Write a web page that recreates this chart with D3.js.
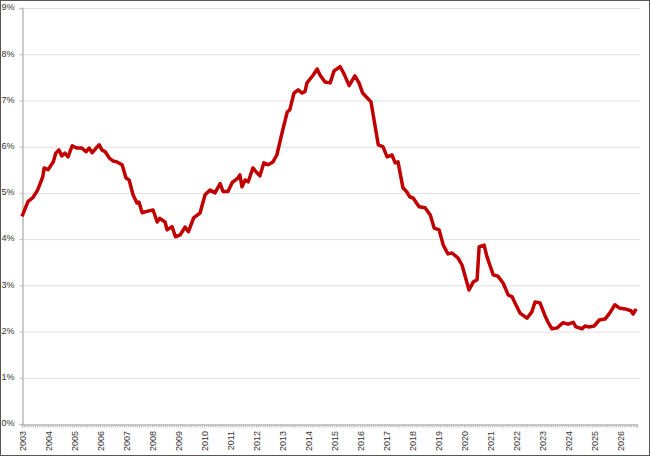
<!DOCTYPE html>
<html><head><meta charset="utf-8">
<script src="https://cdn.jsdelivr.net/npm/d3@7"></script>
<style>body{margin:0;background:#fff}svg{display:block}</style>
</head><body><div id="chart"></div>
<script>
const years = [2003.0,2003.23,2003.42,2003.6,2003.8,2003.85,2004.0,2004.2,2004.3,2004.42,2004.53,2004.65,2004.77,2004.93,2005.1,2005.3,2005.46,2005.58,2005.7,2005.85,2005.97,2006.07,2006.2,2006.35,2006.5,2006.65,2006.85,2007.0,2007.12,2007.27,2007.42,2007.5,2007.62,2007.8,2008.04,2008.2,2008.3,2008.5,2008.58,2008.77,2008.9,2009.08,2009.27,2009.4,2009.6,2009.85,2010.04,2010.23,2010.42,2010.62,2010.73,2010.92,2011.08,2011.3,2011.38,2011.46,2011.58,2011.7,2011.88,2012.04,2012.15,2012.3,2012.46,2012.65,2012.8,2013.0,2013.2,2013.3,2013.46,2013.62,2013.77,2013.88,2013.96,2014.2,2014.35,2014.46,2014.65,2014.85,2015.0,2015.23,2015.38,2015.58,2015.8,2015.96,2016.1,2016.27,2016.42,2016.7,2016.88,2017.04,2017.23,2017.35,2017.46,2017.65,2017.8,2017.92,2018.04,2018.27,2018.5,2018.7,2018.85,2019.04,2019.2,2019.38,2019.54,2019.77,2019.92,2020.08,2020.19,2020.35,2020.5,2020.58,2020.77,2020.88,2021.12,2021.3,2021.5,2021.7,2021.85,2021.96,2022.15,2022.42,2022.6,2022.73,2022.92,2023.1,2023.23,2023.38,2023.58,2023.8,2024.0,2024.2,2024.3,2024.54,2024.65,2024.8,2025.0,2025.2,2025.42,2025.6,2025.8,2025.96,2026.19,2026.42,2026.5,2026.62];
const values = [4.49,4.81,4.9,5.06,5.35,5.54,5.5,5.67,5.86,5.93,5.8,5.86,5.78,6.02,5.97,5.97,5.89,5.97,5.87,5.97,6.04,5.93,5.89,5.76,5.69,5.67,5.61,5.32,5.28,4.96,4.78,4.8,4.57,4.6,4.63,4.37,4.45,4.37,4.2,4.27,4.05,4.09,4.26,4.16,4.46,4.57,4.96,5.06,5.0,5.2,5.03,5.03,5.22,5.32,5.39,5.13,5.28,5.24,5.54,5.43,5.37,5.65,5.61,5.67,5.82,6.3,6.75,6.8,7.16,7.23,7.16,7.19,7.38,7.55,7.68,7.55,7.4,7.38,7.64,7.73,7.58,7.32,7.53,7.38,7.16,7.06,6.97,6.04,6.0,5.78,5.82,5.65,5.67,5.11,5.02,4.91,4.89,4.7,4.68,4.52,4.24,4.2,3.87,3.68,3.7,3.59,3.44,3.12,2.9,3.07,3.12,3.83,3.87,3.62,3.23,3.2,3.05,2.79,2.75,2.62,2.4,2.29,2.42,2.64,2.62,2.36,2.2,2.06,2.08,2.19,2.16,2.2,2.1,2.06,2.12,2.1,2.12,2.25,2.27,2.4,2.58,2.51,2.49,2.45,2.38,2.49];
const yearLabels = d3.range(2003, 2027);
const yTicks = d3.range(0, 10);

const W = 650, H = 456;
const svg = d3.select('#chart').append('svg').attr('width', W).attr('height', H);
svg.append('rect').attr('x', 0.5).attr('y', 0.5).attr('width', W - 1).attr('height', H - 1)
  .attr('fill', '#fff').attr('stroke', '#555');

const x = d3.scaleLinear().domain([2003, 2026.65]).range([22, 637]);
const y = d3.scaleLinear().domain([0, 9]).range([424, 8]);

svg.append('g').selectAll('line').data(yTicks.slice(1)).enter().append('line')
  .attr('x1', 22).attr('x2', 640).attr('y1', d => y(d) + 0.5).attr('y2', d => y(d) + 0.5)
  .attr('stroke', '#e0e0e0');

const ya = svg.append('g').attr('transform', 'translate(22.5,0)')
  .call(d3.axisLeft(y).tickValues(yTicks).tickSize(3).tickFormat(d => d + '%'));
ya.select('.domain').attr('stroke', '#bbb').attr('stroke-width', 1.5);
ya.selectAll('.tick line').attr('stroke', '#bbb');
ya.selectAll('text').attr('font-family', 'Liberation Sans, Arial').attr('font-size', 9).attr('fill', '#333').attr('x', -8).attr('dy', '0.2em');

const months = d3.range(0, 284).map(i => 2003 + i / 12);
const xa = svg.append('g').attr('transform', 'translate(0,424.5)')
  .call(d3.axisBottom(x).tickValues(months).tickSize(3).tickFormat(''));
xa.select('.domain').attr('stroke', '#bbb').attr('stroke-width', 1.5);
xa.selectAll('.tick line').attr('stroke', '#bbb');

svg.append('g').selectAll('text').data(yearLabels).enter().append('text')
  .attr('transform', d => `translate(${x(d) + 4},431) rotate(-90)`)
  .attr('text-anchor', 'end').attr('font-family', 'Liberation Sans, Arial')
  .attr('font-size', 9).attr('fill', '#333').text(d => d);

const line = d3.line().x((d, i) => x(years[i])).y(d => y(d)).curve(d3.curveLinear);
svg.append('path').datum(values).attr('d', line).attr('fill', 'none')
  .attr('stroke', '#c00000').attr('stroke-width', 3.5).attr('stroke-linejoin', 'round');
</script></body></html>
